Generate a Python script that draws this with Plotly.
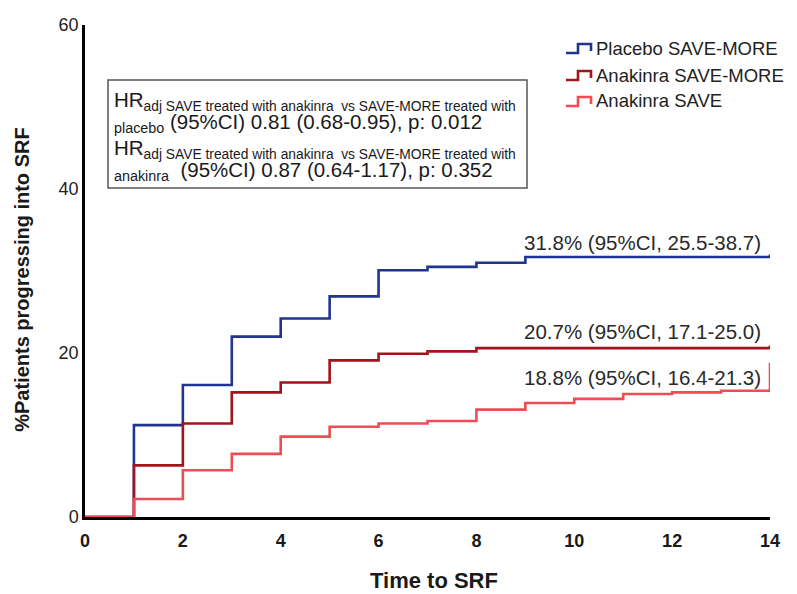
import plotly.graph_objects as go

time = [0, 1, 2, 3, 4, 5, 6, 7, 8, 9, 10, 11, 12, 13, 14]
placebo_more = [0, 11.2, 16.1, 22.0, 24.2, 26.9, 30.1, 30.5, 31.0, 31.7, 31.7, 31.7, 31.7, 31.7, 32.0]
anakinra_more = [0, 6.3, 11.4, 15.2, 16.4, 19.1, 19.9, 20.2, 20.6, 20.6, 20.6, 20.6, 20.6, 20.6, 20.9]
anakinra_save = [0, 2.2, 5.7, 7.7, 9.8, 11.0, 11.4, 11.7, 13.1, 13.9, 14.4, 15.0, 15.2, 15.4, 18.8]

series_names = ["Placebo SAVE-MORE", "Anakinra SAVE-MORE", "Anakinra SAVE"]
series_colors = ["#1f3590", "#a3131b", "#f04c55"]
end_labels = ["31.8% (95%CI, 25.5-38.7)", "20.7% (95%CI, 17.1-25.0)", "18.8% (95%CI, 16.4-21.3)"]
end_label_y = [33.5, 22.6, 17.0]

x_ticks = [0, 2, 4, 6, 8, 10, 12, 14]
y_ticks = [0, 20, 40, 60]

SUB = "<sub><span style='font-size:13.8px'>adj SAVE treated with anakinra  vs SAVE-MORE treated with</span></sub>"
hr_lines = [
    "HR" + SUB,
    "<sub>placebo</sub> (95%CI) 0.81 (0.68-0.95), p: 0.012",
    "HR" + SUB,
    "<sub>anakinra</sub>  (95%CI) 0.87 (0.64-1.17), p: 0.352",
]
hr_line_y = [0.846, 0.800, 0.748, 0.703]

FONT = "Liberation Sans, Arial, sans-serif"

# plot-area pixel geometry (page coordinates) used to place legend items in paper units
PX0, PX1, PY0, PY1 = 85.0, 770.0, 517.0, 25.0


def px(xp):
    return (xp - PX0) / (PX1 - PX0)


def py(yp):
    return (PY0 - yp) / (PY0 - PY1)


fig = go.Figure()
for name, ys, col in zip(series_names, [placebo_more, anakinra_more, anakinra_save], series_colors):
    fig.add_trace(go.Scatter(
        x=time, y=ys, name=name, mode="lines",
        line=dict(color=col, width=2.6, shape="hv"),
        cliponaxis=False, showlegend=False,
    ))

annotations = []
shapes = []
for txt, yv in zip(end_labels, end_label_y):
    annotations.append(dict(
        x=14, y=yv, xref="x", yref="y", text=txt, showarrow=False,
        xanchor="right", yanchor="middle", xshift=-7,
        font=dict(family=FONT, size=20.5, color="#2a2a2a"),
    ))

for txt, yp in zip(hr_lines, hr_line_y):
    annotations.append(dict(
        x=0.0394, y=yp, xref="paper", yref="paper",
        text=txt, showarrow=False, align="left",
        xanchor="left", yanchor="middle",
        font=dict(family=FONT, size=20.5, color="#1a1a1a"),
    ))

# legend (step-shaped icons like the reference)
legend_rows = [48, 75, 101]
for name, col, yc in zip(series_names, series_colors, legend_rows):
    path = "M {a},{lo} L {b},{lo} L {b},{hi} L {c},{hi} L {c},{end}".format(
        a=px(566), b=px(578), c=px(591), lo=py(yc + 5), hi=py(yc - 4), end=py(yc + 3))
    shapes.append(dict(type="path", xref="paper", yref="paper", path=path,
                       line=dict(color=col, width=2.6)))
    annotations.append(dict(
        x=px(594), y=py(yc), xref="paper", yref="paper", text=name, showarrow=False,
        xanchor="left", yanchor="middle",
        font=dict(family=FONT, size=18.5, color="#222222"),
    ))

annotations.append(dict(
    x=-0.092, y=0.482, xref="paper", yref="paper", text="<b>%Patients progressing into SRF</b>",
    textangle=-90, showarrow=False, xanchor="center", yanchor="middle",
    font=dict(family=FONT, size=20, color="#1a1a1a"),
))
annotations.append(dict(
    x=0.51, y=-0.13, xref="paper", yref="paper", text="<b>Time to SRF</b>",
    showarrow=False, xanchor="center", yanchor="middle",
    font=dict(family=FONT, size=22, color="#1a1a1a"),
))

shapes.append(dict(
    type="rect", xref="paper", yref="paper",
    x0=px(108), x1=px(527), y0=py(188), y1=py(80),
    line=dict(color="#555555", width=1.5), fillcolor="rgba(0,0,0,0)",
))

fig.update_layout(
    width=789, height=586,
    margin=dict(l=77, r=27, t=17, b=77, autoexpand=False),
    paper_bgcolor="white", plot_bgcolor="white",
    showlegend=False,
    annotations=annotations,
    shapes=shapes,
    xaxis=dict(
        range=[0, 14], tickvals=x_ticks, showgrid=False, zeroline=False,
        showline=True, linecolor="black", linewidth=2.5, ticks="",
        ticklabelstandoff=6, automargin=False,
        tickfont=dict(family=FONT, size=18, color="#1a1a1a", weight="bold"),
        layer="below traces",
    ),
    yaxis=dict(
        range=[0, 60], tickvals=y_ticks, showgrid=False, zeroline=False,
        showline=True, linecolor="black", linewidth=2.5, ticks="",
        automargin=False,
        tickfont=dict(family=FONT, size=18, color="#222222"),
        layer="below traces",
    ),
)

fig.write_html("out.html")
